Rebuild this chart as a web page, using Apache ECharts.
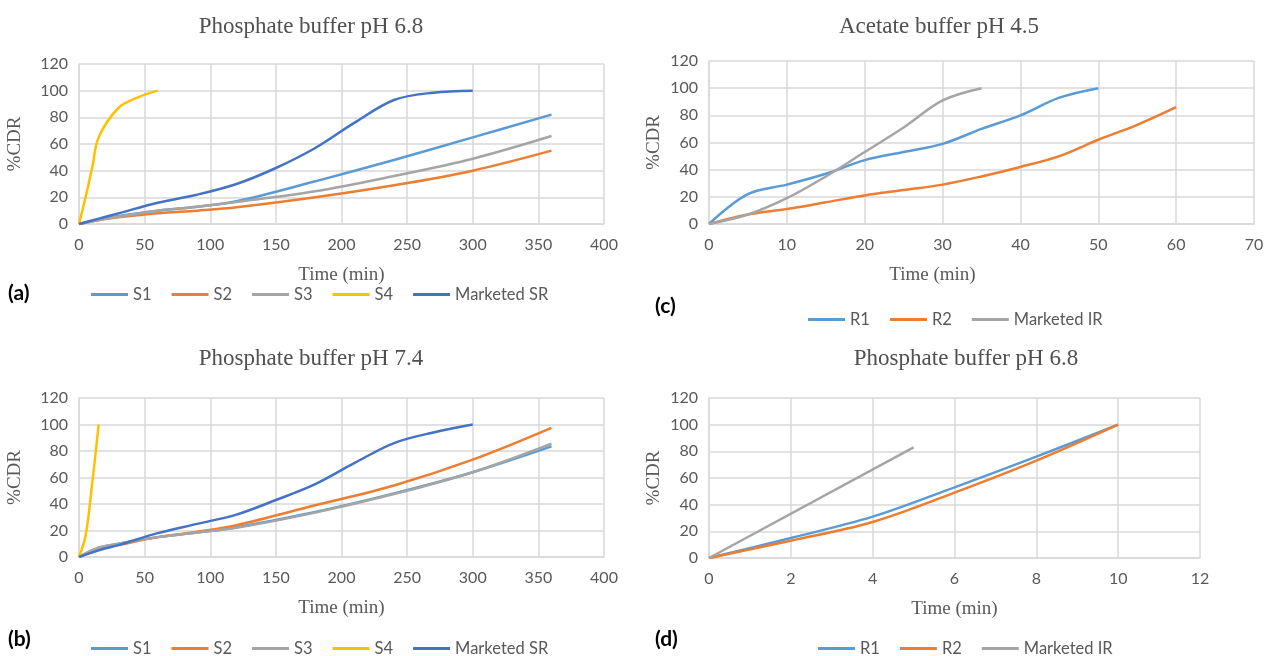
<!DOCTYPE html>
<html>
<head>
<meta charset="utf-8">
<script src="https://cdn.jsdelivr.net/npm/echarts@6/dist/echarts.min.js"></script>
<style>
  html, body { margin: 0; padding: 0; background: #fff; }
  #chart { width: 1268px; height: 656px; }
</style>
</head>
<body>
<div id="chart"></div>
<script>
// (a) phosphate buffer pH 6.8, SR formulations
var timeA = [0, 15, 30, 60, 90, 120, 180, 240, 300, 360];
var s1A = [0, 3, 6, 10, 13, 17, 32, 48, 65, 82];
var s2A = [0, 3, 5, 8, 10, 12.5, 20, 29, 40, 55];
var s3A = [0, 3, 5.5, 10, 13, 16.5, 24.5, 36, 49, 66];
var timeS4A = [0, 5, 10, 15, 30, 45, 60];
var s4A = [0, 20, 42, 65, 87, 95, 100];
var timeMktA = [0, 15, 30, 60, 90, 120, 150, 180, 210, 240, 270, 300];
var mktSrA = [0, 4, 8, 16, 22, 30, 42, 57, 76, 93, 98.5, 100];

// (b) phosphate buffer pH 7.4
var timeB = [0, 15, 30, 60, 90, 120, 180, 240, 300, 360];
var s1B = [0, 7, 10, 15, 18.5, 22.5, 34, 48, 64, 83.5];
var s2B = [0, 6, 9, 15, 19, 24, 39, 54, 73.5, 97.5];
var s3B = [0, 7, 10, 15, 18.5, 22, 33.5, 47.5, 64, 85.5];
var timeS4B = [0, 5, 10, 15];
var s4B = [0, 16, 55, 100];
var timeMktB = [0, 15, 30, 60, 90, 120, 150, 180, 210, 240, 270, 300];
var mktSrB = [0, 5, 9, 18, 25, 32, 43, 55, 71, 86, 94, 100];

// (c) acetate buffer pH 4.5, IR formulations
var timeR1C = [0, 5, 10, 15, 20, 25, 30, 35, 40, 45, 50];
var r1C = [0, 22, 29, 37, 47, 53, 59, 70, 80, 93, 100];
var timeR2C = [0, 5, 10, 15, 20, 25, 30, 35, 40, 45, 50, 55, 60];
var r2C = [0, 7, 11, 16, 21, 25, 29, 35, 42, 50, 62, 73, 86];
var timeIrC = [0, 5, 10, 15, 20, 25, 30, 35];
var mktIrC = [0, 7, 19, 35, 53, 71, 91, 100];

// (d) phosphate buffer pH 6.8, IR formulations
var timeD = [0, 2, 4, 6, 8, 10];
var r1D = [0, 15, 31, 53, 76, 100];
var r2D = [0, 13, 27, 49, 73, 100];
var timeIrD = [0, 5];
var mktIrD = [0, 83];

var legendSR = ['S1', 'S2', 'S3', 'S4', 'Marketed SR'];
var legendIR = ['R1', 'R2', 'Marketed IR'];

var colors = {
  'S1': '#5B9BD5', 'S2': '#ED7D31', 'S3': '#A5A5A5', 'S4': '#FFC000',
  'Marketed SR': '#4472C4', 'R1': '#5B9BD5', 'R2': '#ED7D31', 'Marketed IR': '#A5A5A5'
};

function zip(xs, ys) {
  return xs.map(function (x, i) { return [x, ys[i]]; });
}

function line(name, idx, xs, ys) {
  return {
    name: name,
    type: 'line',
    xAxisIndex: idx,
    yAxisIndex: idx,
    data: zip(xs, ys),
    smooth: 0.35,
    showSymbol: false,
    color: colors[name],
    lineStyle: { width: 2.5, color: colors[name] }
  };
}

var gridColor = '#D9D9D9';
var labelColor = '#595959';
var serif = 'Liberation Serif';
var sans = 'Lato';

function xAxis(idx, max, interval, namePad) {
  return {
    gridIndex: idx,
    type: 'value',
    min: 0,
    max: max,
    interval: interval,
    name: 'Time (min)',
    nameLocation: 'middle',
    nameGap: 42,
    nameTextStyle: { fontFamily: serif, fontSize: 19, color: labelColor, padding: namePad || 0 },
    axisLine: { lineStyle: { color: gridColor, width: 1.5 } },
    axisTick: { show: false },
    axisLabel: { color: labelColor, fontSize: 16, fontFamily: sans, margin: 13 },
    splitLine: { show: true, lineStyle: { color: gridColor, width: 1.5 } }
  };
}

function yAxis(idx, gap) {
  return {
    gridIndex: idx,
    type: 'value',
    min: 0,
    max: 120,
    interval: 20,
    name: '%CDR',
    nameLocation: 'middle',
    nameRotate: 90,
    nameGap: gap,
    nameTextStyle: { fontFamily: serif, fontSize: 19, color: labelColor },
    axisLine: { show: true, lineStyle: { color: gridColor, width: 1.5 } },
    axisTick: { show: false },
    axisLabel: { color: labelColor, fontSize: 16, fontFamily: sans, margin: 11 },
    splitLine: { show: true, lineStyle: { color: gridColor, width: 1.5 } }
  };
}

function title(text, x, y) {
  return {
    text: text,
    left: x,
    top: y,
    textAlign: 'center',
    textStyle: { fontFamily: serif, fontSize: 23, fontWeight: 'normal', color: '#505050' }
  };
}

function legend(names, x, y) {
  return {
    data: names,
    left: x,
    top: y,
    icon: 'rect',
    itemWidth: 37,
    itemHeight: 3,
    itemGap: 20,
    selectedMode: false,
    textStyle: { fontFamily: sans, fontSize: 16.5, color: labelColor }
  };
}

function tag(text, x, y) {
  return {
    type: 'text',
    left: x,
    top: y,
    style: { text: text, font: 'bold 21px Lato', fill: '#000' }
  };
}

var chart = echarts.init(document.getElementById('chart'));
chart.setOption({
  animation: false,
  backgroundColor: '#fff',
  title: [
    title('Phosphate buffer pH 6.8', 306, 10),
    title('Acetate buffer pH 4.5', 934, 10),
    title('Phosphate buffer pH 7.4', 306, 342),
    title('Phosphate buffer pH 6.8', 961, 342)
  ],
  legend: [
    legend(legendSR, 86, 281),
    legend(legendSR, 86, 635),
    legend(legendIR, 803, 306),
    legend(legendIR, 813, 635)
  ],
  graphic: [
    tag('(a)', 8, 283),
    tag('(b)', 8, 629),
    tag('(c)', 655, 296),
    tag('(d)', 655, 629)
  ],
  grid: [
    { left: 79, top: 64, width: 525, height: 160 },
    { left: 79, top: 398, width: 525, height: 159 },
    { left: 709, top: 61, width: 545, height: 163 },
    { left: 709, top: 398, width: 491, height: 160 }
  ],
  xAxis: [
    xAxis(0, 400, 50),
    xAxis(1, 400, 50),
    xAxis(2, 70, 10, [0, 98, 0, 0]),
    xAxis(3, 12, 2)
  ],
  yAxis: [
    yAxis(0, 54),
    yAxis(1, 54),
    yAxis(2, 45),
    yAxis(3, 45)
  ],
  series: [
    line('S1', 0, timeA, s1A),
    line('S2', 0, timeA, s2A),
    line('S3', 0, timeA, s3A),
    line('S4', 0, timeS4A, s4A),
    line('Marketed SR', 0, timeMktA, mktSrA),
    line('S1', 1, timeB, s1B),
    line('S2', 1, timeB, s2B),
    line('S3', 1, timeB, s3B),
    line('S4', 1, timeS4B, s4B),
    line('Marketed SR', 1, timeMktB, mktSrB),
    line('R1', 2, timeR1C, r1C),
    line('R2', 2, timeR2C, r2C),
    line('Marketed IR', 2, timeIrC, mktIrC),
    line('R1', 3, timeD, r1D),
    line('R2', 3, timeD, r2D),
    line('Marketed IR', 3, timeIrD, mktIrD)
  ]
});
</script>
</body>
</html>
